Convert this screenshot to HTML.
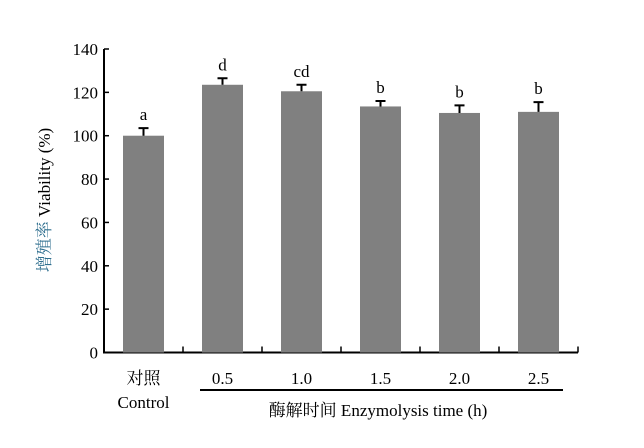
<!DOCTYPE html>
<html><head><meta charset="utf-8"><style>body{margin:0;background:#fff}svg{display:block}text{font-family:"Liberation Serif","Noto Serif CJK SC",serif;fill:#000}</style></head><body>
<svg id="c" width="644" height="448"></svg>
<script>
const categories=["对照|Control","0.5","1.0","1.5","2.0","2.5"];
const values=[100,123.5,120.5,113.5,110.5,111];
const errors=[3.5,3,3,2.5,3.5,4.5];
const letters=["a","d","cd","b","b","b"];
const yTicks=[0,20,40,60,80,100,120,140];
const svg=document.getElementById('c');const NS='http://www.w3.org/2000/svg';
const x0=104,cw=79,yb=352.5,yt=49;
const y=v=>yb-(v/140)*(yb-yt);
const xc=i=>x0+cw*(i+0.5);
function el(t,a,p){const e=document.createElementNS(NS,t);for(const k in a)e.setAttribute(k,a[k]);(p||svg).appendChild(e);return e;}
let g=el('g',{});


el('line',{x1:x0,y1:yt,x2:x0,y2:yb+1,stroke:'#000','stroke-width':2},g);
yTicks.forEach(v=>{el('line',{x1:x0,y1:y(v),x2:x0+5,y2:y(v),stroke:'#000','stroke-width':1.5},g);
const t=el('text',{x:x0-6,y:y(v)+6,'text-anchor':'end','font-size':17},g);t.textContent=v;

});
const yl=el('text',{transform:'translate(50,200) rotate(-90)','text-anchor':'middle','font-size':17});


yl.innerHTML='<tspan style="fill:#2f6f8f">增殖率</tspan> Viability (%)';
let gx=el('g',{});


el('line',{x1:x0-1,y1:yb,x2:x0+cw*6,y2:yb,stroke:'#000','stroke-width':2},gx);
for(let i=1;i<=6;i++)el('line',{x1:x0+cw*i,y1:yb,x2:x0+cw*i,y2:yb-6,stroke:'#000','stroke-width':1.5},gx);
values.forEach((v,i)=>{const cx=xc(i);
const b=el('rect',{x:cx-20.5,y:y(v),width:41,height:yb-y(v),fill:'#808080'});


const ey=y(v+errors[i]);
const e=el('path',{d:`M${cx} ${y(v)}V${ey}M${cx-5} ${ey}H${cx+5}`,stroke:'#000','stroke-width':2,fill:'none'});


const l=el('text',{x:cx,y:ey-8,'text-anchor':'middle','font-size':17});l.textContent=letters[i];


const parts=categories[i].split('|');
const t=el('text',{x:cx,y:384,'text-anchor':'middle','font-size':17});t.textContent=parts[0];


if(parts[1]){const t2=el('text',{x:cx,y:408,'text-anchor':'middle','font-size':17});t2.textContent=parts[1];

}
});
const u=el('line',{x1:200,y1:390,x2:563,y2:390,stroke:'#000','stroke-width':2});


const xt=el('text',{x:378,y:416,'text-anchor':'middle','font-size':17});xt.textContent='酶解时间 Enzymolysis time (h)';


</script></body></html>
